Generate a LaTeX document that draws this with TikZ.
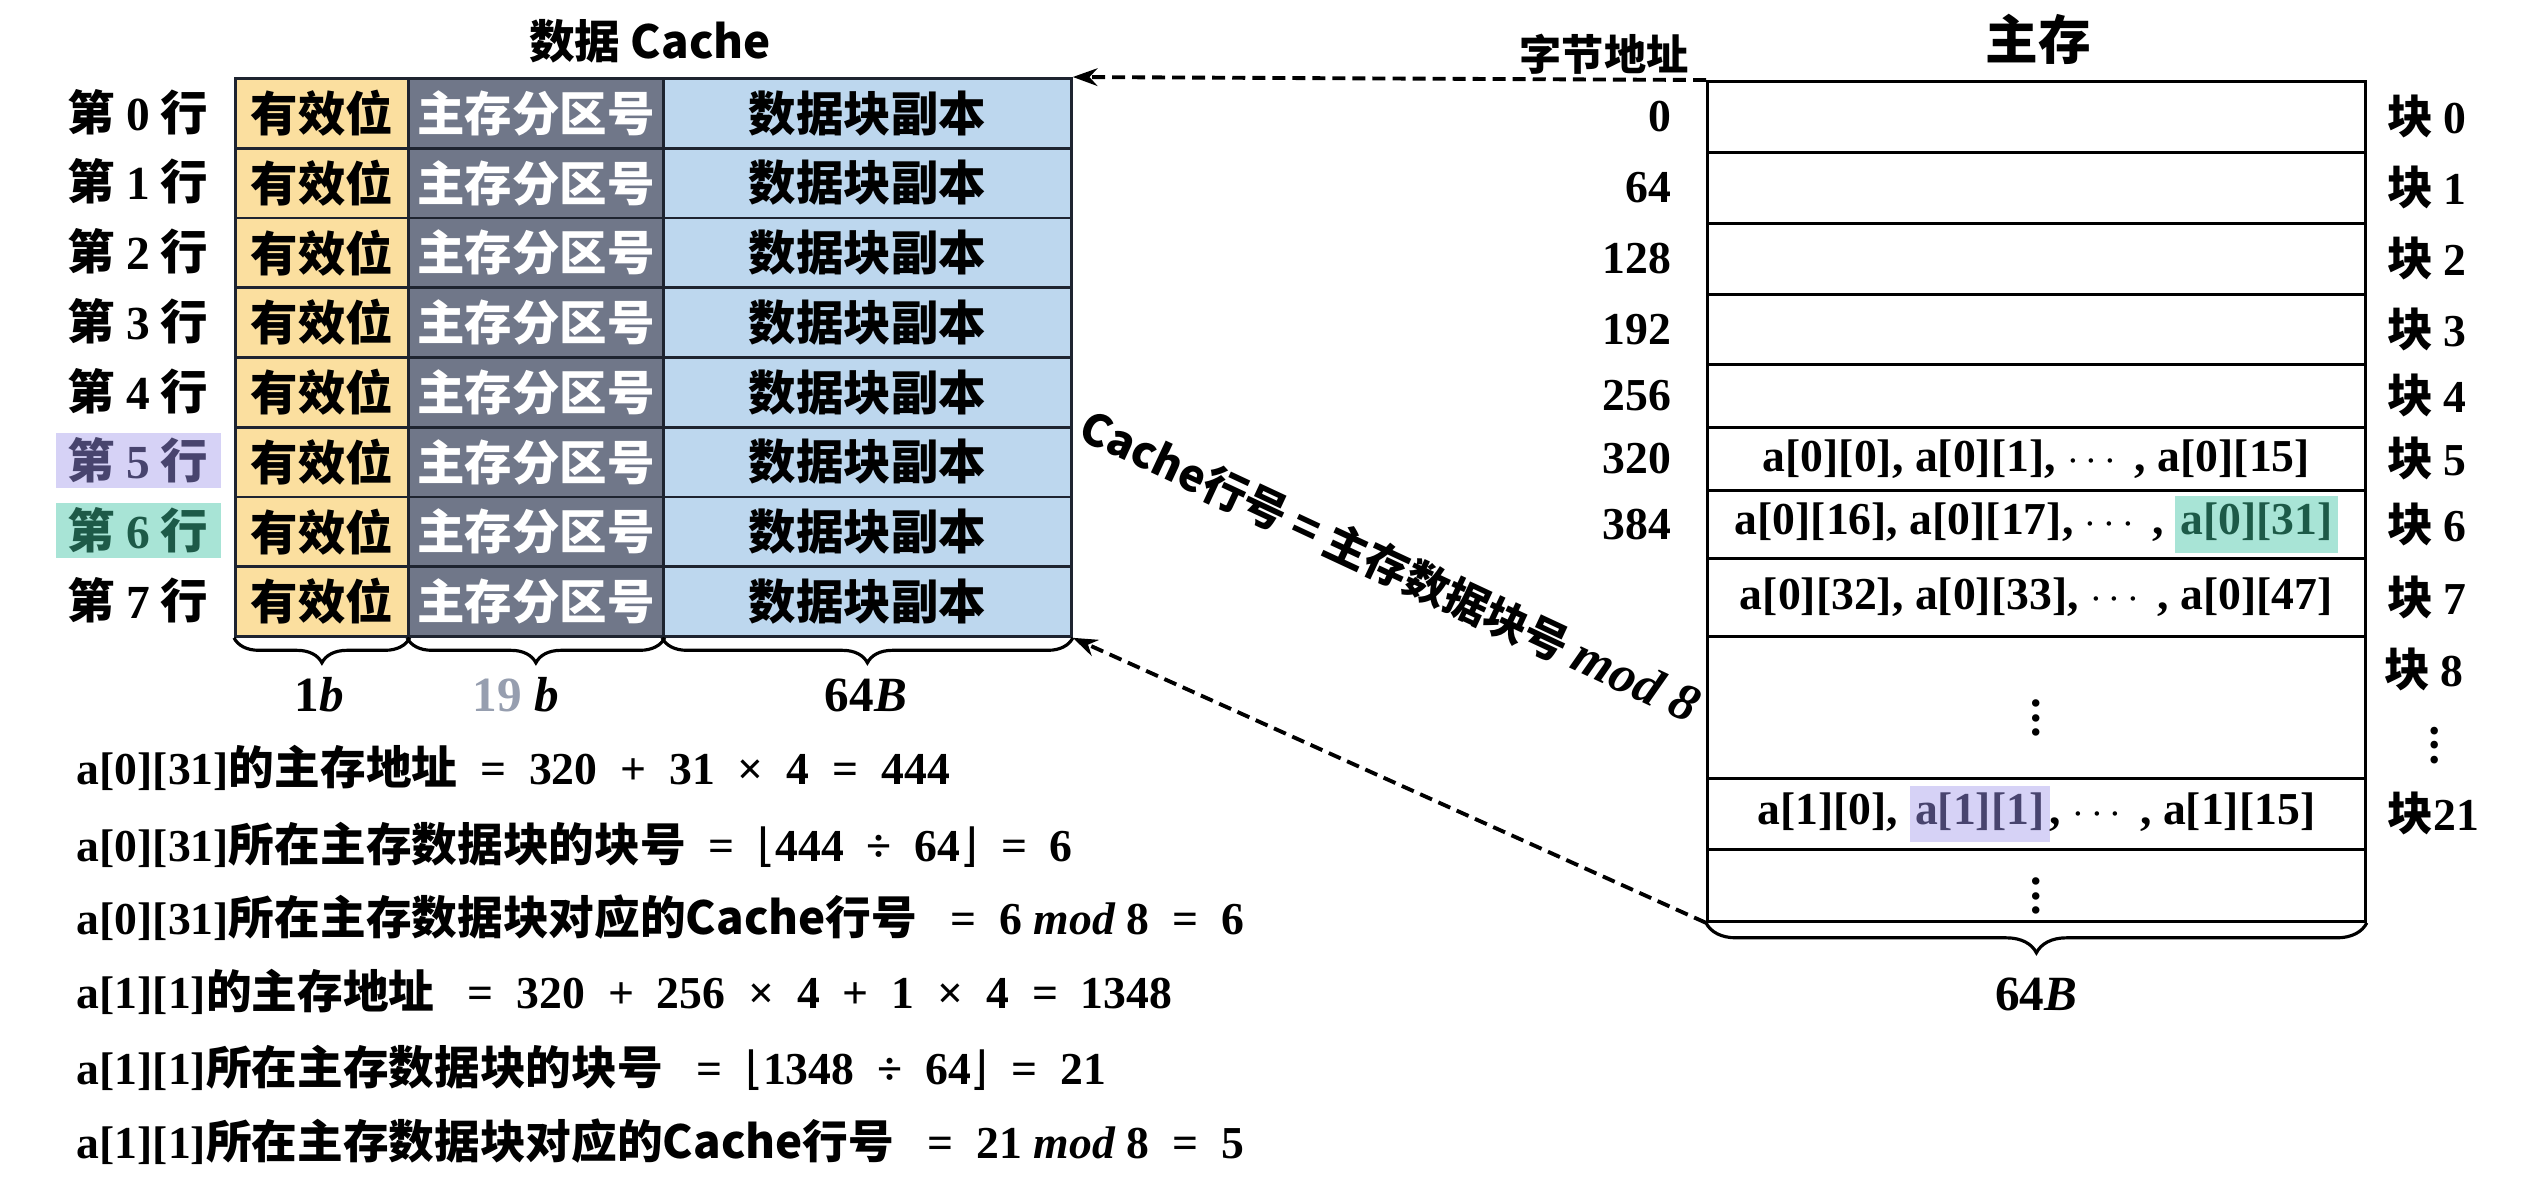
\documentclass[tikz,border=0pt]{standalone}
\usepackage{fontspec}
\usepackage{amsmath}
\setmainfont{Noto Sans CJK SC}
\newfontfamily\tnr{Liberation Serif}
\newfontfamily\dvs{DejaVu Sans}
\usetikzlibrary{arrows.meta,decorations.pathreplacing}

\definecolor{validcol}{HTML}{FBDF9F}
\definecolor{tagcol}{HTML}{707789}
\definecolor{datacol}{HTML}{BDD7EE}
\definecolor{gridcol}{HTML}{1E2430}
\definecolor{lav}{HTML}{D6D2F6}
\definecolor{lavtext}{HTML}{48446E}
\definecolor{mint}{HTML}{A8E4D6}
\definecolor{minttext}{HTML}{1D5A48}
\definecolor{nineteen}{HTML}{969EAF}

\newcommand{\hlbox}[3]{{\setlength{\fboxsep}{1.5pt}\colorbox{#1}{\color{#2}\rule[-3.5pt]{0pt}{13pt}#3}}}
\newcommand{\op}[1]{\enspace#1\enspace}
\newcommand{\flo}[1]{{\dvs\mdseries ⌊}#1{\dvs\mdseries ⌋}}

\begin{document}
\begin{tikzpicture}[
  cell/.style={draw=gridcol, line width=0.8pt, anchor=north west, minimum height=0.6975cm, inner sep=0pt, font=\bfseries\fontsize{13.5}{16}\selectfont},
  rowlab/.style={minimum width=1.65cm, minimum height=0.55cm, inner sep=0pt, font=\bfseries\fontsize{13.5}{16}\selectfont},
  plain/.style={},
  hlfive/.style={fill=lav, text=lavtext},
  hlsix/.style={fill=mint, text=minttext},
  memcell/.style={draw, line width=0.8pt, anchor=north west, minimum width=6.58cm, inner sep=0pt, font=\tnr\bfseries\fontsize{13}{15}\selectfont},
  addr/.style={anchor=east, inner sep=0pt, font=\tnr\bfseries\fontsize{13}{15}\selectfont},
  blk/.style={anchor=west, inner sep=0pt, font=\bfseries\fontsize{13}{15}\selectfont},
  eqn/.style={anchor=west, inner sep=0pt, font=\bfseries\fontsize{13}{15}\selectfont},
  sizelab/.style={font=\tnr\bfseries\fontsize{14}{16}\selectfont},
  link/.style={line width=1.1pt, dash pattern=on 3.7pt off 2pt, -{Stealth[length=7pt,width=5pt]}},
  curly/.style={decorate, decoration={brace, mirror, amplitude=#1}, line width=0.9pt}
]
\useasboundingbox (0,0) rectangle (25.22,-11.97);

% cache
\node[font=\bfseries\fontsize{13}{15}\selectfont] (ctitle) at (6.5,-0.41) {数据 Cache};
\foreach \i/\sty in {0/plain,1/plain,2/plain,3/plain,4/plain,5/hlfive,6/hlsix,7/plain}{
  \node[rowlab,\sty] (r\i) at (1.38,{-0.77-(\i+0.5)*0.6975}) {第 {\tnr\i} 行};
  \node[cell, fill=validcol, minimum width=1.73cm] (v\i) at (2.34,{-0.77-\i*0.6975}) {有效位};
  \node[cell, fill=tagcol, text=white, minimum width=2.55cm] (t\i) at (4.07,{-0.77-\i*0.6975}) {主存分区号};
  \node[cell, fill=datacol, minimum width=4.08cm] (d\i) at (6.62,{-0.77-\i*0.6975}) {数据块副本};
}
\draw[curly=0.25cm] (v7.south west) -- (v7.south east);
\draw[curly=0.25cm] (t7.south west) -- (t7.south east);
\draw[curly=0.25cm] (d7.south west) -- (d7.south east);
\node[sizelab] (w1) at (3.19,-6.95) {1\textit{b}};
\node[sizelab] (w2) at (5.16,-6.95) {\textcolor{nineteen}{19} \textit{b}};
\node[sizelab] (w3) at (8.66,-6.95) {64\textit{B}};

% main memory
\node[font=\bfseries\fontsize{15}{18}\selectfont] (mtitle) at (20.38,-0.39) {主存};
\node[font=\bfseries\fontsize{12}{14}\selectfont] (bytehead) at (16.04,-0.54) {字节地址};
\node[memcell, minimum height=0.71cm] (b0) at (17.06,-0.80) {};
\node[memcell, minimum height=0.71cm] (b1) at (17.06,-1.51) {};
\node[memcell, minimum height=0.71cm] (b2) at (17.06,-2.22) {};
\node[memcell, minimum height=0.70cm] (b3) at (17.06,-2.93) {};
\node[memcell, minimum height=0.63cm] (b4) at (17.06,-3.63) {};
\node[memcell, minimum height=0.63cm] (b5) at (17.06,-4.26) {a[0][0], a[0][1], $\cdots$ , a[0][15]};
\node[memcell, minimum height=0.68cm] (b6) at (17.06,-4.89) {a[0][16], a[0][17], $\cdots$ , \hlbox{mint}{minttext}{a[0][31]}};
\node[memcell, minimum height=0.78cm] (b7) at (17.06,-5.57) {a[0][32], a[0][33], $\cdots$ , a[0][47]};
\node[memcell, minimum height=1.42cm] (b8) at (17.06,-6.35) {$\vdots$};
\node[memcell, minimum height=0.71cm] (b21) at (17.06,-7.77) {a[1][0], \hlbox{lav}{lavtext}{a[1][1]}, $\cdots$ , a[1][15]};
\node[memcell, minimum height=0.72cm] (bx) at (17.06,-8.48) {$\vdots$};
\draw[curly=0.3cm] (bx.south west) -- (bx.south east);
\node[sizelab] (w4) at (20.36,-9.94) {64\textit{B}};

\foreach \b/\a in {0/0,1/64,2/128,3/192,4/256,5/320,6/384}{
  \node[addr] (a\b) at ([xshift=-0.34cm]b\b.west) {\a};
  \node[blk] (k\b) at ([xshift=0.2cm]b\b.east) {块 {\tnr\b}};
}
\node[blk] (k7) at ([xshift=0.2cm]b7.east) {块 {\tnr 7}};
\node[blk] (k8) at (23.84,-6.69) {块 {\tnr 8}};
\node[font=\bfseries] (kdots) at (24.35,-7.35) {$\vdots$};
\node[blk] (k21) at ([xshift=0.2cm]b21.east) {块{\tnr 21}};

% mapping
\draw[link] (b0.north west) -- (d0.north east);
\draw[link] (bx.south west) -- (d7.south east);
\node[rotate=-25, font=\bfseries\fontsize{12.5}{15}\selectfont] (rule) at (13.9,-5.66) {Cache行号 = 主存数据块号 {\tnr\itshape\fontsize{15}{16}\selectfont mod 8}};

% worked example
\node[eqn] (eq1) at (0.76,-7.68) {{\tnr a[0][31]}的主存地址{\tnr\op{=}320\op{+}31\op{×}4\op{=}444}};
\node[eqn] (eq2) at (0.76,-8.45) {{\tnr a[0][31]}所在主存数据块的块号{\tnr\op{=}\flo{444\op{÷}64}\op{=}6}};
\node[eqn] (eq3) at (0.76,-9.18) {{\tnr a[0][31]}所在主存数据块对应的Cache行号 {\tnr\op{=}6 \textit{mod} 8\op{=}6}};
\node[eqn] (eq4) at (0.76,-9.92) {{\tnr a[1][1]}的主存地址 {\tnr\op{=}320\op{+}256\op{×}4\op{+}1\op{×}4\op{=}1348}};
\node[eqn] (eq5) at (0.76,-10.68) {{\tnr a[1][1]}所在主存数据块的块号 {\tnr\op{=}\flo{1348\op{÷}64}\op{=}21}};
\node[eqn] (eq6) at (0.76,-11.42) {{\tnr a[1][1]}所在主存数据块对应的Cache行号 {\tnr\op{=}21 \textit{mod} 8\op{=}5}};
\end{tikzpicture}
\end{document}
